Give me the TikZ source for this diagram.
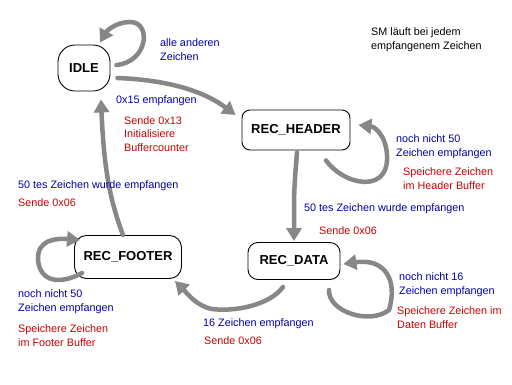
\documentclass[tikz,border=0pt]{standalone}
\usepackage{fontspec}
\setmainfont{Liberation Sans}
\usetikzlibrary{arrows.meta}
\definecolor{arrgray}{RGB}{135,135,135}
\definecolor{lblblue}{RGB}{0,0,170}
\definecolor{lblred}{RGB}{200,0,0}
\tikzset{
  state/.style={draw=black, line width=0.9pt, fill=white, font=\fontsize{13}{15}\selectfont\bfseries, inner sep=0pt},
  trans/.style={draw=arrgray, line width=4.5pt, line cap=round, -{Triangle[length=13pt,width=15pt]}},
  txt/.style={anchor=west, align=left, inner sep=0pt, font=\fontsize{10.8}{13.8}\selectfont},
  bluetxt/.style={txt, text=lblblue},
  redtxt/.style={txt, text=lblred},
  blacktxt/.style={txt, text=black}
}
\begin{document}
\begin{tikzpicture}[x=1pt,y=-1pt]
\useasboundingbox[fill=white] (0,0) rectangle (512,384);

% states
\node[state, minimum width=52pt, minimum height=46pt, rounded corners=17pt] (idle) at (84,68) {IDLE};
\node[state, minimum width=108pt, minimum height=40pt, rounded corners=8pt] (header) at (296,130) {REC\_HEADER};
\node[state, minimum width=92pt, minimum height=37pt, rounded corners=10pt] (data) at (294,261) {REC\_DATA};
\node[state, minimum width=107pt, minimum height=43pt, rounded corners=12pt] (footer) at (128,257) {REC\_FOOTER};

% transitions
\draw[trans] ([shift={(6,-3)}]idle.east) .. controls (148,62) and (152,22) .. (130,22)
   .. controls (115,22) and (106,32) .. ([shift={(16,-2)}]idle.north);
\draw[trans] ([shift={(7,10)}]idle.east) .. controls (170,80) and (205,92) .. ([shift={(-6,-15)}]header.west);
\draw[trans] ([shift={(-5,0)}]footer.north) .. controls (110,200) and (104,170) .. ([shift={(17,8)}]idle.south);
\draw[trans] ([shift={(30,10)}]header.south) .. controls (345,186) and (386,192) .. (387,160)
   .. controls (388,140) and (377,127) .. ([shift={(8,-5)}]header.east);
\draw[trans] ([shift={(1,2)}]header.south) .. controls (294,190) .. ([shift={(0,-1)}]data.north);
\draw[trans] ([shift={(35,10)}]data.south) .. controls (328,312) and (370,325) .. (389,310)
   .. controls (398,280) and (385,258) .. ([shift={(3,3)}]data.east);
\draw[trans] ([shift={(-11,7)}]data.south) .. controls (270,305) and (235,312) .. (212,309)
   .. controls (196,306) and (186,292) .. ([shift={(-7,2)}]footer.south east);
\draw[trans] ([shift={(8,16)}]footer.west) .. controls (60,285) and (40,282) .. (38,260)
   .. controls (37,240) and (55,238) .. ([shift={(6,-17)}]footer.west);

% labels
\node[bluetxt] (l1) at (160,49.5) {alle anderen\\Zeichen};
\node[blacktxt] (l2) at (371,40) {SM läuft bei jedem\\empfangenem Zeichen};
\node[bluetxt] (l3) at (116,101) {0x15 empfangen};
\node[redtxt] (l4) at (124,134) {Sende 0x13\\Initialisiere\\Buffercounter};
\node[bluetxt] (l5) at (396,147) {noch nicht 50\\Zeichen empfangen};
\node[redtxt] (l6) at (403,179) {Speichere Zeichen\\im Header Buffer};
\node[bluetxt] (l7) at (18,186) {50 tes Zeichen wurde empfangen};
\node[redtxt] (l8) at (18,203) {Sende 0x06};
\node[bluetxt] (l9) at (304,209) {50 tes Zeichen wurde empfangen};
\node[redtxt] (l10) at (319,231) {Sende 0x06};
\node[bluetxt] (l11) at (399,285) {noch nicht 16\\Zeichen empfangen};
\node[redtxt] (l12) at (397,318) {Speichere Zeichen im\\Daten Buffer};
\node[bluetxt] (l13) at (18,302) {noch nicht 50\\Zeichen empfangen};
\node[redtxt] (l14) at (18,336) {Speichere Zeichen\\im Footer Buffer};
\node[bluetxt] (l15) at (203,324) {16 Zeichen empfangen};
\node[redtxt] (l16) at (204,341) {Sende 0x06};
\end{tikzpicture}
\end{document}
